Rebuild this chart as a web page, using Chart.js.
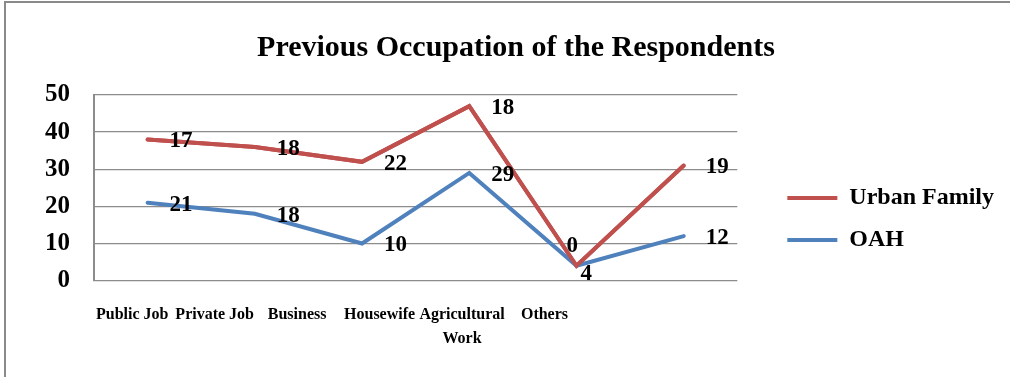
<!DOCTYPE html>
<html>
<head>
<meta charset="utf-8">
<script src="https://cdn.jsdelivr.net/npm/chart.js@4"></script>
<style>
  html, body { margin: 0; padding: 0; background: #fff; overflow: hidden; }
  #wrap { position: relative; width: 1010px; height: 377px; }
  #frame { position: absolute; left: 4px; top: 1px; width: 1100px; height: 500px; border: 2px solid #8a8a8a; pointer-events: none; }
</style>
</head>
<body>
<div id="wrap">
  <canvas id="occupation" width="1010" height="377"></canvas>
  <div id="frame"></div>
</div>
<script>
// data (values are stacked: red line = OAH + Urban Family)
var categories = ['Public Job', 'Private Job', 'Business', 'Housewife', ['Agricultural', 'Work'], 'Others'];
var urbanFamily = [17, 18, 22, 18, 0, 19];
var oah = [21, 18, 10, 29, 4, 12];
var yTicks = [0, 10, 20, 30, 40, 50];

var serif = '"Liberation Serif", "Times New Roman", serif';
var gridGray = '#8c8c8c';

// where the value labels sit relative to their point
var labelShift = [22, 2];
var shiftOverride = { 'Urban Family': { 4: [-10, -20] }, 'OAH': { 4: [4, 8] } };

// the category names in the picture are squeezed to the left of the points
var labelSpanShift = -3;
var labelSpanRatio = 0.769;

var valueLabels = {
    id: 'valueLabels',
    afterDatasetsDraw: function (chart) {
        // red line sits over the blue one in the picture
        chart.getDatasetMeta(1).controller.draw();
        var ctx = chart.ctx;
        ctx.save();
        ctx.font = 'bold 23px ' + serif;
        ctx.fillStyle = '#000';
        ctx.textAlign = 'left';
        ctx.textBaseline = 'middle';
        chart.data.datasets.forEach(function (ds, i) {
            var meta = chart.getDatasetMeta(i);
            meta.data.forEach(function (pt, j) {
                var sh = (shiftOverride[ds.label] && shiftOverride[ds.label][j]) || labelShift;
                ctx.fillText(String(ds.data[j]), pt.x + sh[0], pt.y + sh[1]);
            });
        });
        ctx.restore();
    }
};

var squeezeLabels = {
    id: 'squeezeLabels',
    afterLayout: function (chart) {
        var s = chart.scales.x2;
        var a = chart.chartArea;
        s.left = a.left + labelSpanShift;
        s.right = s.left + (a.right - a.left) * labelSpanRatio;
        s.configure();
    }
};

var ctx = document.getElementById('occupation').getContext('2d');
var chart = new Chart(ctx, {
    type: 'line',
    data: {
        labels: categories,
        datasets: [{
            label: 'OAH',
            data: oah,
            borderColor: '#4F81BD',
            backgroundColor: '#4F81BD',
            borderWidth: 4,
            borderCapStyle: 'round',
            pointRadius: 0,
            tension: 0
        }, {
            label: 'Urban Family',
            data: urbanFamily,
            borderColor: '#C0504D',
            backgroundColor: '#C0504D',
            borderWidth: 4,
            borderCapStyle: 'round',
            pointRadius: 0,
            tension: 0
        }]
    },
    options: {
        responsive: false,
        animation: false,
        layout: { padding: { left: 28, right: 6, top: 0, bottom: 12 } },
        scales: {
            x: { type: 'category', offset: true, display: false },
            x2: {
                type: 'category',
                labels: categories,
                position: 'bottom',
                offset: true,
                grid: { display: false },
                border: { display: false },
                ticks: {
                    color: '#000',
                    font: { family: serif, size: 16, weight: 'bold', lineHeight: 1.45 },
                    padding: 15,
                    maxRotation: 0,
                    autoSkip: false
                }
            },
            y: {
                stacked: true,
                min: yTicks[0],
                max: yTicks[yTicks.length - 1],
                ticks: {
                    stepSize: yTicks[1] - yTicks[0],
                    autoSkip: false,
                    color: '#000',
                    font: { family: serif, size: 25, weight: 'bold' },
                    padding: 24
                },
                grid: { color: gridGray, lineWidth: 1.3, drawTicks: false },
                border: { display: true, color: gridGray, width: 2 },
                afterFit: function (s) { s.width = 66; }
            },
            y2: {
                position: 'right',
                grid: { display: false },
                border: { display: false },
                ticks: { display: false },
                afterFit: function (s) { s.width = 32; }
            }
        },
        plugins: {
            title: {
                display: true,
                text: 'Previous Occupation of the Respondents',
                color: '#000',
                font: { family: serif, size: 30, weight: 'bold' },
                padding: { top: 30, bottom: 29 }
            },
            legend: {
                position: 'right',
                align: 'start',
                fullSize: false,
                reverse: true,
                maxWidth: 240,
                title: { display: true, text: '', font: { size: 10, lineHeight: 1 }, padding: { top: 63, bottom: 0 } },
                labels: {
                    boxWidth: 50,
                    boxHeight: 4,
                    padding: 18,
                    color: '#000',
                    font: { family: serif, size: 24, weight: 'bold' },
                    generateLabels: function (c) {
                        var items = Chart.defaults.plugins.legend.labels.generateLabels(c);
                        items.forEach(function (it) {
                            it.fillStyle = c.data.datasets[it.datasetIndex].borderColor;
                            it.lineWidth = 0;
                        });
                        return items;
                    }
                }
            },
            tooltip: { enabled: false }
        }
    },
    plugins: [valueLabels, squeezeLabels]
});
</script>
</body>
</html>
